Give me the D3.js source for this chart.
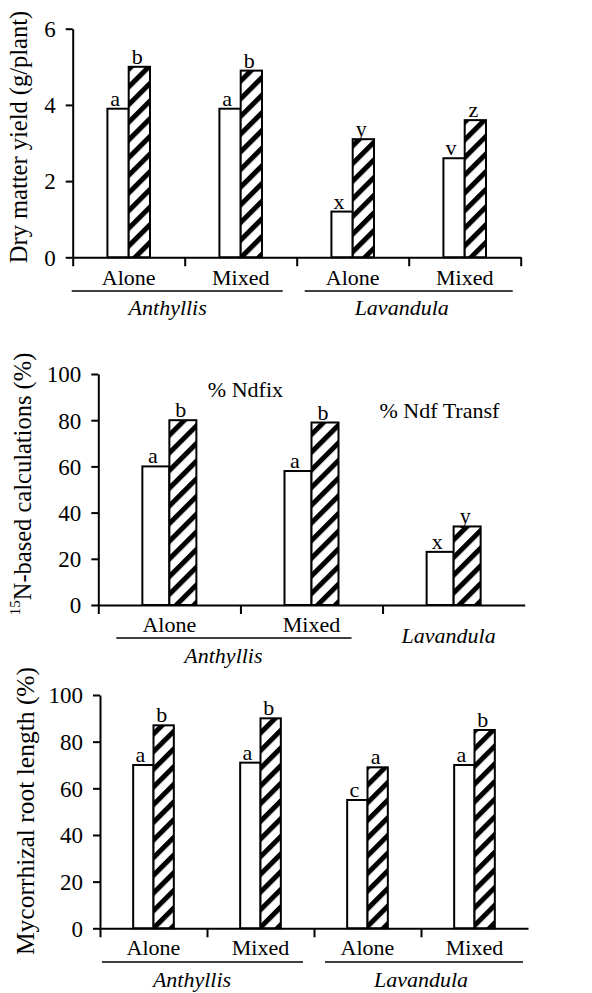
<!DOCTYPE html>
<html>
<head>
<meta charset="utf-8">
<script src="https://cdn.jsdelivr.net/npm/d3@7"></script>
<style>
  body { margin: 0; background: #fff; }
  svg { display: block; }
</style>
</head>
<body>
<div id="chart"></div>
<script>
// --- panel 1 : dry matter yield ---
const yieldCats = ["Alone", "Mixed", "Alone", "Mixed"];
const yieldWhite = [3.9, 3.9, 1.2, 2.6];
const yieldHatched = [5.0, 4.9, 3.1, 3.6];
const yieldWhiteLetters = ["a", "a", "x", "v"];
const yieldHatchedLetters = ["b", "b", "y", "z"];
const yieldTicks = [0, 2, 4, 6];

// --- panel 2 : 15N-based calculations ---
const ndfCats = ["Alone", "Mixed", ""];
const ndfWhite = [60, 58, 23];
const ndfHatched = [80, 79, 34];
const ndfWhiteLetters = ["a", "a", "x"];
const ndfHatchedLetters = ["b", "b", "y"];
const ndfTicks = [0, 20, 40, 60, 80, 100];
const ndfNotes = ["% Ndfix", "% Ndf Transf"];
const ndfNoteValues = [90, 81];

// --- panel 3 : mycorrhizal root length ---
const mycCats = ["Alone", "Mixed", "Alone", "Mixed"];
const mycWhite = [70, 71, 55, 70];
const mycHatched = [87, 90, 69, 85];
const mycWhiteLetters = ["a", "a", "c", "a"];
const mycHatchedLetters = ["b", "b", "a", "b"];
const mycTicks = [0, 20, 40, 60, 80, 100];

const plants = ["Anthyllis", "Lavandula"];

const W = 592, H = 993;
const FONT = '"Liberation Serif", "Times New Roman", "DejaVu Serif", serif';
const svg = d3.select('#chart').append('svg')
  .attr('width', W).attr('height', H)
  .attr('font-family', FONT)
  .style('font-family', FONT);

// diagonal hatch
const defs = svg.append('defs');
const hatch = defs.append('pattern')
  .attr('id', 'hatch')
  .attr('patternUnits', 'userSpaceOnUse')
  .attr('width', 12.5).attr('height', 12.5)
  .attr('patternTransform', 'rotate(45)');
hatch.append('rect').attr('width', 12.5).attr('height', 12.5).attr('fill', '#fff');
hatch.append('rect').attr('width', 5).attr('height', 12.5).attr('fill', '#000');

function txt(sel, size) {
  return sel.style('font-family', FONT).style('font-size', size + 'px').attr('fill', '#000');
}

function drawPanel(cfg) {
  const g = svg.append('g');
  const n = cfg.cats.length;
  const x = d3.scaleBand().domain(d3.range(n)).range(cfg.xr).padding(0);
  const xl = d3.scaleLinear().domain([0, n]).range(cfg.xr);
  const y = d3.scaleLinear().domain([0, d3.max(cfg.ticks)]).range(cfg.yr);
  const bw = x.bandwidth() * 0.19;

  // y axis
  const ya = g.append('g')
    .attr('transform', `translate(${cfg.xr[0]},0)`)
    .call(d3.axisLeft(y).tickValues(cfg.ticks).tickFormat(d3.format('d'))
      .tickSize(7).tickPadding(10).tickSizeOuter(0));
  ya.attr('font-family', null).attr('font-size', null);
  ya.selectAll('path, line').attr('stroke', '#000').attr('stroke-width', 2);
  txt(ya.selectAll('text'), 23).attr('dy', '0.34em');

  // bars
  const white = cfg.white.map((v, i) => ({ v, i }));
  const hatched = cfg.hatched.map((v, i) => ({ v, i }));
  const cx = i => x(i) + x.bandwidth() / 2;

  g.selectAll('.bw').data(white).join('rect')
    .attr('x', d => cx(d.i) - bw).attr('y', d => y(d.v))
    .attr('width', bw).attr('height', d => y(0) - y(d.v))
    .attr('fill', '#fff').attr('stroke', '#000').attr('stroke-width', 2);
  g.selectAll('.bh').data(hatched).join('rect')
    .attr('x', d => cx(d.i)).attr('y', d => y(d.v))
    .attr('width', bw).attr('height', d => y(0) - y(d.v))
    .attr('fill', 'url(#hatch)').attr('stroke', '#000').attr('stroke-width', 2);

  // letters
  txt(g.selectAll('.lw').data(white).join('text'), 22)
    .attr('x', d => cx(d.i) - bw / 2 - 3).attr('y', d => y(d.v) - 3)
    .attr('text-anchor', 'middle')
    .text(d => cfg.wl[d.i]);
  txt(g.selectAll('.lh').data(hatched).join('text'), 22)
    .attr('x', d => cx(d.i) + bw / 2 - 2).attr('y', d => y(d.v) - 3)
    .attr('text-anchor', 'middle')
    .text(d => cfg.hl[d.i]);

  // x axis with ticks at band edges
  const xa = g.append('g')
    .attr('transform', `translate(0,${y(0)})`)
    .call(d3.axisBottom(xl).tickValues(cfg.xticks).tickSize(9).tickFormat('').tickSizeOuter(0));
  xa.selectAll('path, line').attr('stroke', '#000').attr('stroke-width', 2);

  // category labels
  txt(g.selectAll('.cat').data(cfg.cats).join('text'), 22)
    .attr('x', (d, i) => cx(i)).attr('y', cfg.catY)
    .attr('text-anchor', 'middle')
    .text(d => d);

  // plant groups
  cfg.groups.forEach(gr => {
    const a = xl(gr.from) + gr.inset[0], b = xl(gr.to) - gr.inset[1];
    g.append('line').attr('x1', a).attr('x2', b)
      .attr('y1', cfg.lineY).attr('y2', cfg.lineY)
      .attr('stroke', '#000').attr('stroke-width', 1.5);
    txt(g.append('text'), 22)
      .attr('x', (xl(gr.from) + xl(gr.to)) / 2 + gr.shift).attr('y', cfg.groupY)
      .attr('text-anchor', 'middle').style('font-style', 'italic')
      .text(gr.name);
  });

  // y title
  const t = txt(g.append('text'), cfg.titleSize)
    .attr('transform', `translate(${cfg.titleX},${cfg.titleY}) rotate(-90)`)
    .attr('text-anchor', 'middle');
  cfg.title(t);

  return { g, x, xl, y };
}

// top
drawPanel({
  cats: yieldCats, white: yieldWhite, hatched: yieldHatched,
  wl: yieldWhiteLetters, hl: yieldHatchedLetters, ticks: yieldTicks,
  xr: [72.7, 520.7], yr: [257.3, 28.7], xticks: [0, 1, 2, 3, 4],
  catY: 285, lineY: 291, groupY: 315,
  groups: [
    { name: plants[0], from: 0, to: 2, inset: [-1, 14], shift: -17 },
    { name: plants[1], from: 2, to: 4, inset: [8, 8], shift: -7 }
  ],
  titleX: 27, titleY: 137, titleSize: 24.5,
  title: t => t.text('Dry matter yield (g/plant)')
});

// middle
const mid = drawPanel({
  cats: ndfCats, white: ndfWhite, hatched: ndfHatched,
  wl: ndfWhiteLetters, hl: ndfHatchedLetters, ticks: ndfTicks,
  xr: [98.3, 524.7], yr: [605, 374], xticks: [0, 1, 2],
  catY: 632, lineY: 638, groupY: 663,
  groups: [
    { name: plants[0], from: 0, to: 2, inset: [18, 31], shift: -17 }
  ],
  titleX: 27, titleY: 484, titleSize: 24.5,
  title: t => {
    t.append('tspan').attr('dy', '-0.45em').style('font-size', '15px').text('15');
    t.append('tspan').attr('dy', '0.45em').text('N-based calculations (%)');
  }
});
txt(mid.g.append('text'), 22)
  .attr('x', mid.x(2) + mid.x.bandwidth() / 2 - 5).attr('y', 643)
  .attr('text-anchor', 'middle').style('font-style', 'italic')
  .text(plants[1]);
txt(mid.g.selectAll('.note').data(ndfNotes).join('text'), 22)
  .attr('x', (d, i) => i === 0 ? mid.xl(1) + 5 : mid.xl(2.4))
  .attr('y', (d, i) => mid.y(ndfNoteValues[i]))
  .attr('text-anchor', 'middle')
  .text(d => d);

// bottom
drawPanel({
  cats: mycCats, white: mycWhite, hatched: mycHatched,
  wl: mycWhiteLetters, hl: mycHatchedLetters, ticks: mycTicks,
  xr: [100, 528], yr: [928.3, 695], xticks: [0, 1, 2, 3],
  catY: 955, lineY: 962, groupY: 987,
  groups: [
    { name: plants[0], from: 0, to: 2, inset: [2, 11], shift: -15 },
    { name: plants[1], from: 2, to: 4, inset: [11, 5], shift: 0 }
  ],
  titleX: 34, titleY: 811, titleSize: 25.5,
  title: t => t.text('Mycorrhizal root length (%)')
});
</script>
</body>
</html>
